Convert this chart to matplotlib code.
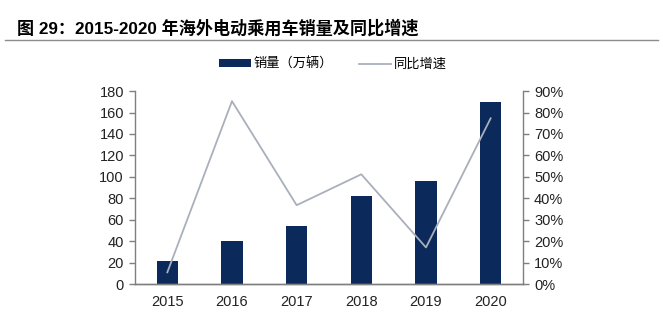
import matplotlib.pyplot as plt
import numpy as np
from matplotlib.lines import Line2D
from matplotlib.patches import Patch

plt.rcParams['font.family'] = ['Liberation Sans', 'Noto Sans CJK SC', 'DejaVu Sans']

years = ['2015', '2016', '2017', '2018', '2019', '2020']
sales = [21.4, 39.8, 54.4, 82, 96, 169.5]          # 万辆
growth = [5.5, 85.3, 36.8, 51.2, 17.1, 77.3]       # 同比增速, %

bar_color = '#0b2a5b'
line_color = '#a9afbb'
axis_color = '#7f7f7f'

fig = plt.figure(figsize=(6.63, 3.30), dpi=100)

# title + rule under it
fig.text(0.026, 0.916, '图 29：2015-2020 年海外电动乘用车销量及同比增速', fontsize=12.3,
         fontweight='bold', family=['Liberation Sans', 'Noto Sans CJK SC'], va='center')
fig.add_artist(Line2D([0.008, 0.992], [0.878, 0.878], color='#8c8c8c', lw=1.0))

ax = fig.add_axes([0.2036, 0.139, 0.5852, 0.585])
x = np.arange(len(years))
ax.bar(x, sales, width=0.33, color=bar_color, zorder=2)
ax.set_ylim(0, 180)
ax.set_yticks(np.arange(0, 181, 20))
ax.set_xlim(-0.5, len(years) - 0.5)
ax.set_xticks(x)
ax.set_xticklabels(years)

ax2 = ax.twinx()
ax2.plot(x, growth, color=line_color, lw=1.3, zorder=3)
ax2.set_ylim(0, 90)
ax2.set_yticks(np.arange(0, 91, 10))
ax2.set_yticklabels([f'{v}%' for v in range(0, 91, 10)])

for a in (ax, ax2):
    a.spines['top'].set_visible(False)
    for s in ('left', 'right', 'bottom'):
        a.spines[s].set_color(axis_color)
        a.spines[s].set_linewidth(1.0)
    a.tick_params(axis='y', colors=axis_color, labelcolor='#222222', labelsize=10.5,
                  length=4, width=1.0, direction='out', pad=4)
    a.tick_params(axis='x', length=0, labelsize=10.5, labelcolor='#222222', pad=8)
ax.spines['right'].set_visible(False)
ax2.spines['left'].set_visible(False)

handles = [Patch(facecolor=bar_color, edgecolor='none'),
           Line2D([0], [0], color=line_color, lw=1.3)]
fig.legend(handles, ['销量（万辆）', '同比增速'], loc='center', bbox_to_anchor=(0.502, 0.805),
           ncol=2, frameon=False, prop={'family': ['Noto Sans CJK SC'], 'size': 9.5},
           handlelength=2.4, handleheight=0.55, columnspacing=2.0, handletextpad=0.2)

fig.savefig('out.png', dpi=100)
